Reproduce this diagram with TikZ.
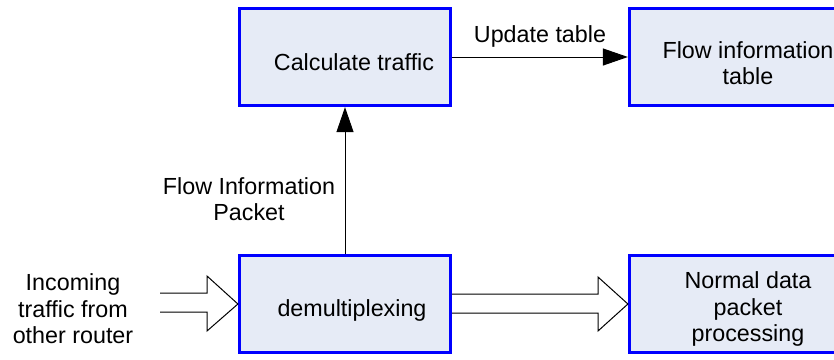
\documentclass[tikz,border=0pt]{standalone}
\usepackage{fontspec}
\setmainfont{Liberation Sans}
\usetikzlibrary{arrows.meta}
\begin{document}
\begin{tikzpicture}[x=1pt,y=1pt,
  box/.style={draw=blue,line width=3.2pt,fill=boxfill,minimum width=211pt,minimum height=97pt,inner sep=0pt},
  lbl/.style={font=\fontsize{23.3}{26.5}\selectfont,align=center,inner sep=0pt},
  conn/.style={line width=1pt,-{Triangle[length=25pt,width=17pt]}},
  hollow/.style={draw=black,line width=1pt,fill=white}]
\definecolor{boxfill}{RGB}{230,235,246}
\useasboundingbox (0,0) rectangle (834,-359);
\node[box] (calc) at (345,-57) {};
\node[lbl] (calct) at (354,-62) {Calculate traffic};
\node[box] (flow) at (735,-57) {};
\node[lbl] (flowt) at (748,-63) {Flow information\\table};
\node[box] (demux) at (345,-304) {};
\node[lbl] (demuxt) at (352,-310) {demultiplexing};
\node[box] (norm) at (735,-304) {};
\node[lbl] (normt) at (748,-309) {Normal data\\packet\\processing};
\node[lbl] (inc) at (73,-309) {Incoming\\traffic from\\other router};
\node[lbl] (fip) at (249,-199) {Flow Information\\Packet};
\draw[conn] (demux.north) -- (calc.south);
\draw[conn] (calc.east) -- node[lbl,above=9pt] (upd) {Update table} (flow.west);
% hollow input arrow
\draw[hollow] (160,-293) -- (207,-293) -- (207,-276) -- (demux.west) -- (207,-331) -- (207,-312) -- (160,-312);
% hollow output arrow
\draw[hollow] (demux.east |- 0,-294) -- (598,-294) -- (598,-277) -- (norm.west) -- (598,-331) -- (598,-313) -- (demux.east |- 0,-313);
\end{tikzpicture}
\end{document}
